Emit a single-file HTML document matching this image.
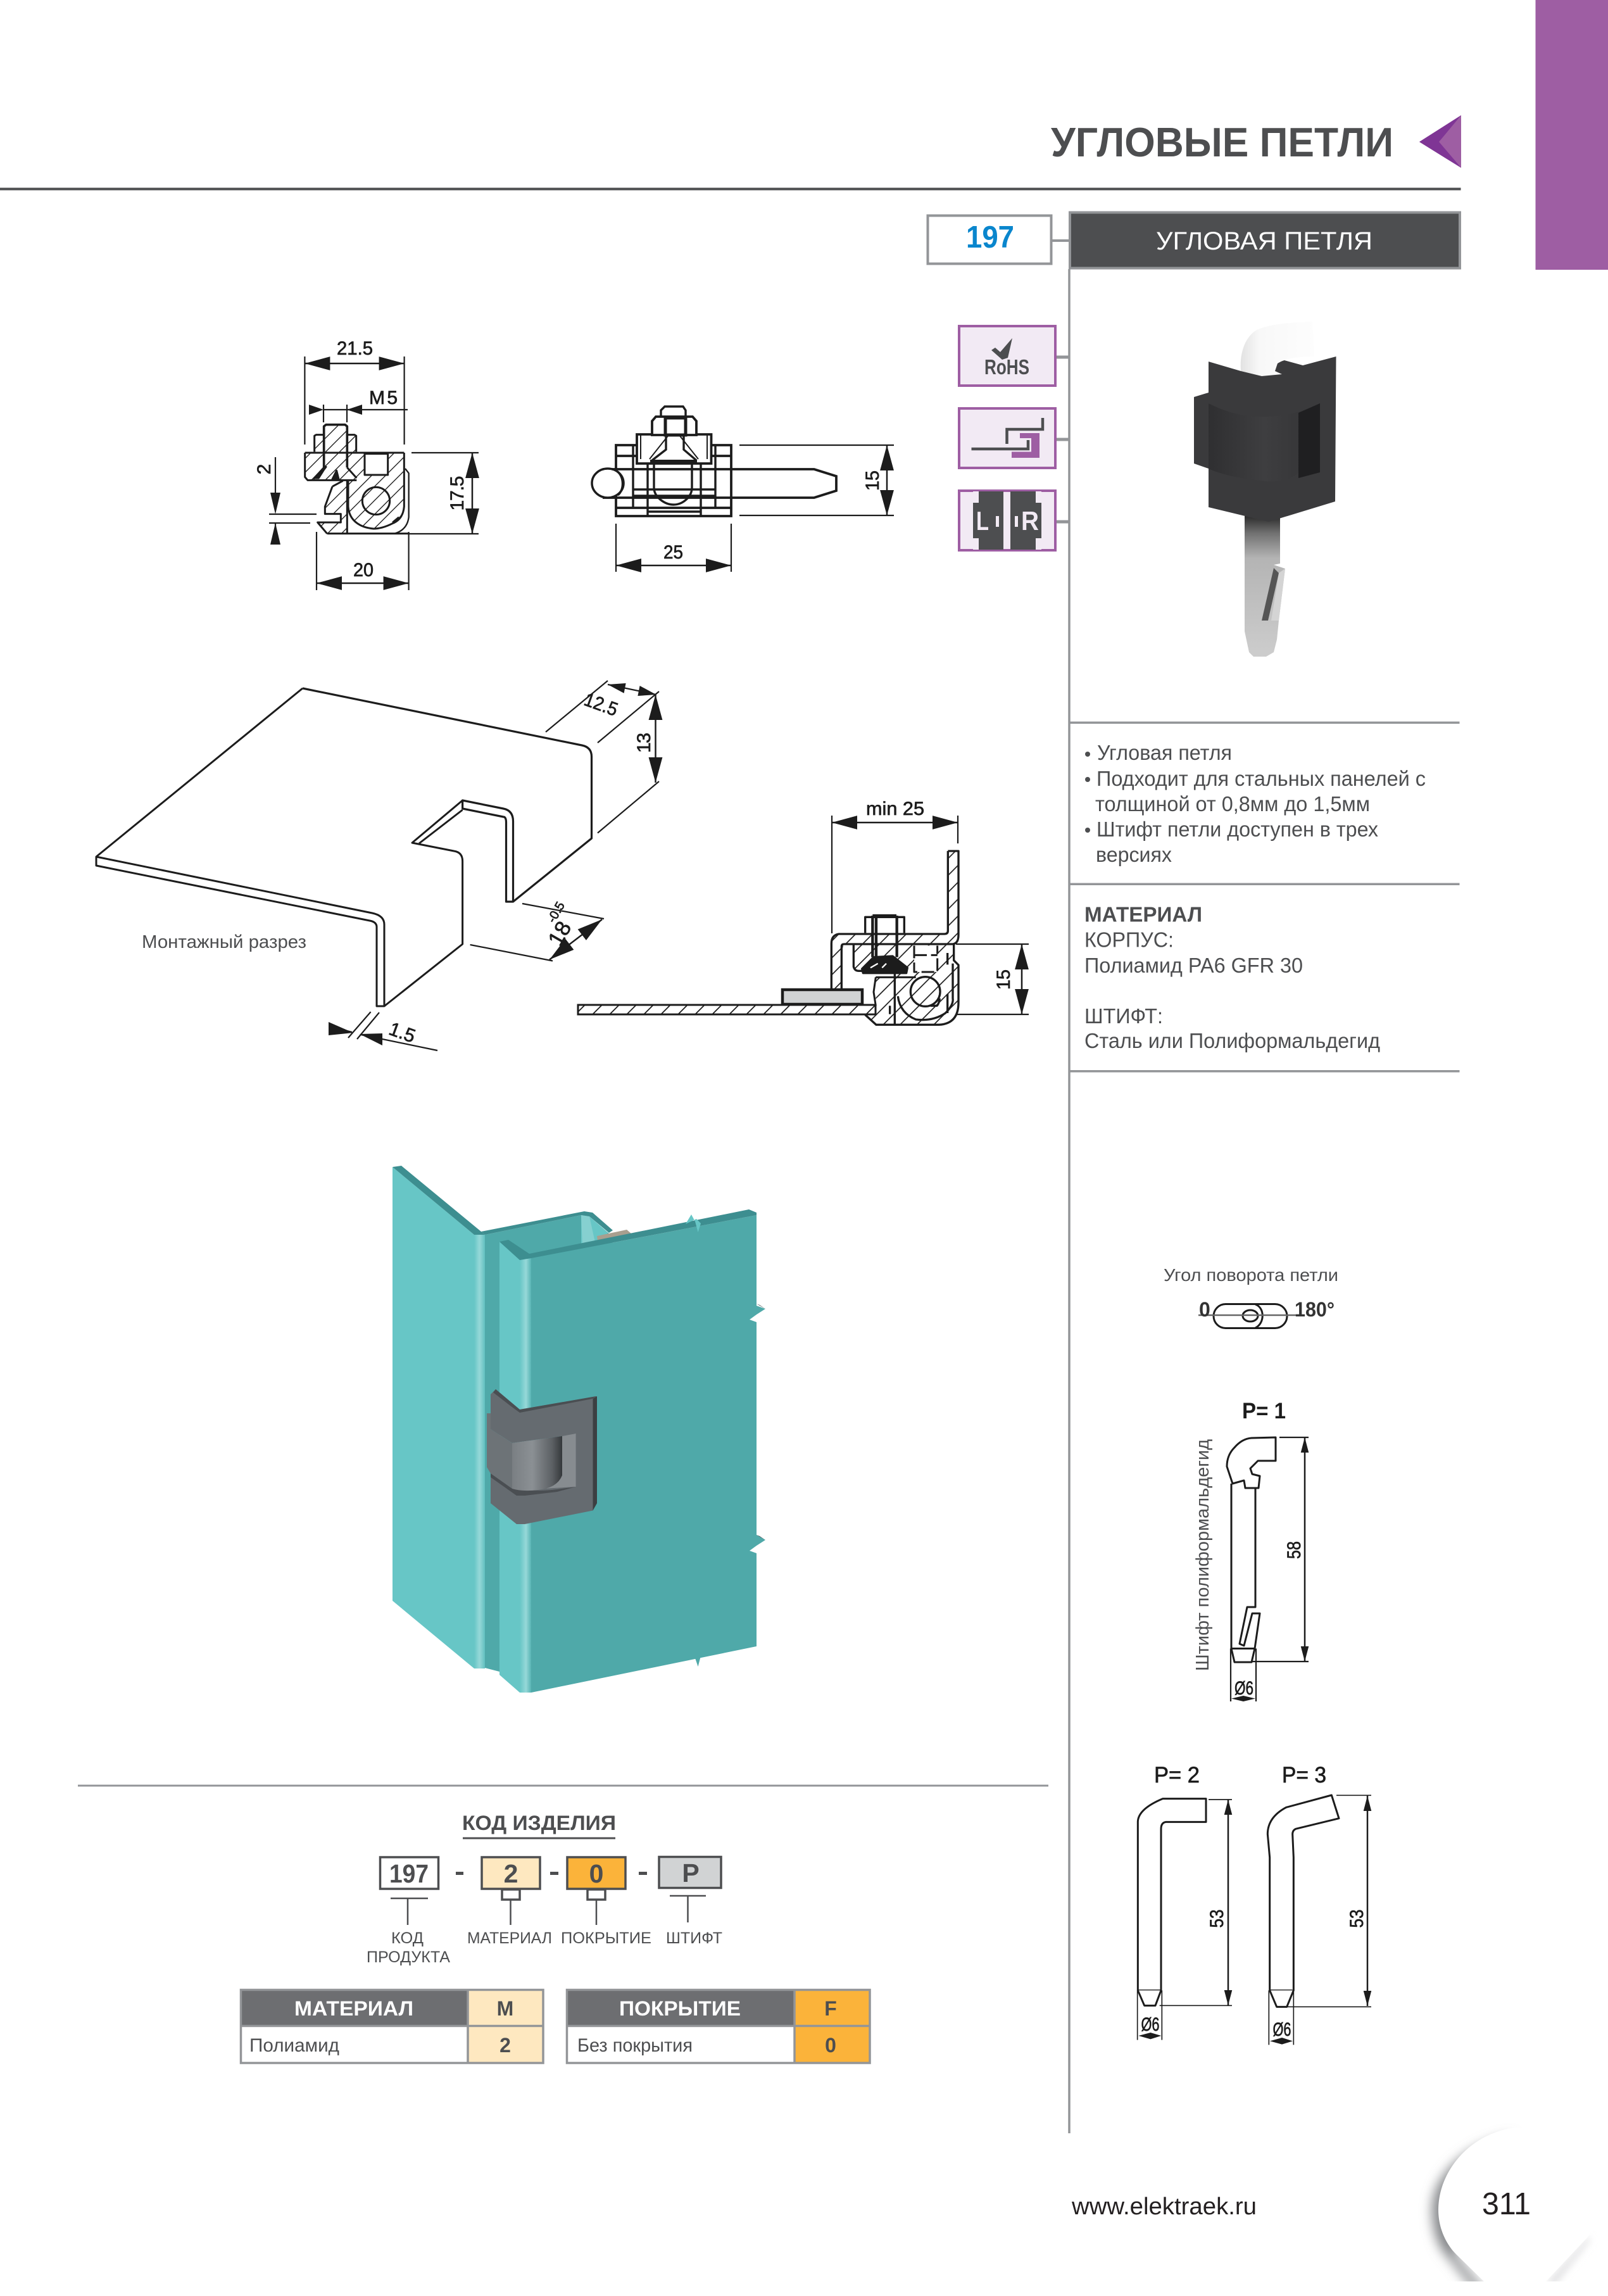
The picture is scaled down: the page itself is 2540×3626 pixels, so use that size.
<!DOCTYPE html>
<html lang="ru"><head><meta charset="utf-8"><title>197</title>
<style>
html,body{margin:0;padding:0;background:#fff}
svg{display:block}
text{font-family:"Liberation Sans","Noto Sans CJK SC",sans-serif;fill:#4d4e50}
.d{fill:#1c1c1c;stroke:#1c1c1c;stroke-width:.7px;font-size:30px}
.t{font-size:33px}
.b{font-weight:bold}
.m{text-anchor:middle}
.l{font-size:25px}
.thin{stroke:#1c1c1c;stroke-width:2.2;fill:none}
.dim{stroke:#1c1c1c;stroke-width:2.5;fill:none;marker-start:url(#a);marker-end:url(#a)}
.dims{stroke:#1c1c1c;stroke-width:2.5;fill:none;marker-start:url(#s);marker-end:url(#s)}
.g{stroke:#939598;stroke-width:3.5;fill:none}
</style></head><body>
<svg xmlns="http://www.w3.org/2000/svg" width="2540" height="3626" viewBox="0 0 2540 3626">
<defs>
<marker id="a" markerUnits="userSpaceOnUse" markerWidth="40" markerHeight="24" refX="33" refY="9" orient="auto-start-reverse" viewBox="0 0 33 18"><path d="M0 0L33 9L0 18Z" fill="#1c1c1c"/></marker>
<marker id="s" markerUnits="userSpaceOnUse" markerWidth="24" markerHeight="14" refX="23" refY="6" orient="auto-start-reverse" viewBox="0 0 23 12"><path d="M0 0L23 6L0 12Z" fill="#1c1c1c"/></marker>
<pattern id="h3" patternUnits="userSpaceOnUse" width="66" height="66"><path d="M-6 72L72 -6M-6 6L6 -6M60 72L72 60" stroke="#1c1c1c" stroke-width="4"/></pattern>
<pattern id="h11" patternUnits="userSpaceOnUse" width="80" height="80"><path d="M-8 88L88 -8M-8 8L8 -8M72 88L88 72" stroke="#1c1c1c" stroke-width="5"/></pattern>
<pattern id="hp" patternUnits="userSpaceOnUse" width="27" height="27"><path d="M-3 30L30 -3M-3 3L3 -3M24 30L30 24" stroke="#1c1c1c" stroke-width="1.8"/></pattern>
<linearGradient id="band" x1="0" x2="1" y1="0" y2="0"><stop offset="0" stop-color="#67c6c6"/><stop offset=".5" stop-color="#96d8d8"/><stop offset="1" stop-color="#62c0c0"/></linearGradient>
<linearGradient id="band2" x1="0" x2="1" y1="0" y2="0"><stop offset="0" stop-color="#67c6c6"/><stop offset=".55" stop-color="#96d8d8"/><stop offset="1" stop-color="#58b4b4"/></linearGradient>
<linearGradient id="cyl" x1="0" x2="1" y1="0" y2="0"><stop offset="0" stop-color="#7a7f83"/><stop offset=".4" stop-color="#8b9094"/><stop offset=".8" stop-color="#5c6064"/><stop offset="1" stop-color="#35383b"/></linearGradient>
<linearGradient id="pin" x1="0" x2="0" y1="0" y2="1"><stop offset="0" stop-color="#2c2c2c"/><stop offset=".12" stop-color="#707070"/><stop offset=".3" stop-color="#b4b4b4"/><stop offset="1" stop-color="#cdcdcd"/></linearGradient>
<linearGradient id="pint" x1="0" x2="1" y1="0" y2="0"><stop offset="0" stop-color="#e2e2e2"/><stop offset=".25" stop-color="#f8f8f8"/><stop offset="1" stop-color="#fdfdfd"/></linearGradient>
<linearGradient id="kn" x1="0" x2="1" y1="0" y2="0"><stop offset="0" stop-color="#2f2f31"/><stop offset=".5" stop-color="#3e3e40"/><stop offset="1" stop-color="#333335"/></linearGradient>
<filter id="bl" x="-30%" y="-30%" width="160%" height="160%"><feGaussianBlur stdDeviation="9"/></filter>
<filter id="bl2" x="-30%" y="-30%" width="160%" height="160%"><feGaussianBlur stdDeviation="6"/></filter>
</defs>
<rect width="2540" height="3626" fill="#fff"/>

<!-- header -->
<rect x="2425.5" y="0" width="114.5" height="426" fill="#9e5ea3"/>
<text x="1660" y="247" font-size="65" class="b" textLength="541" lengthAdjust="spacingAndGlyphs">УГЛОВЫЕ ПЕТЛИ</text>
<polygon points="2242,224 2308,182 2308,265" fill="#9e5ea3"/>
<polygon points="2242,224 2308,182 2273,224 2308,265" fill="#7f3595"/>
<rect x="0" y="296.5" width="2307.5" height="4" fill="#4d4e50"/>

<rect x="1465.5" y="340.5" width="195" height="76" fill="#fff" stroke="#939598" stroke-width="4"/>
<text x="1526" y="391" font-size="49" class="b" style="fill:#0a86cd" textLength="76" lengthAdjust="spacingAndGlyphs">197</text>
<line x1="1662" y1="380" x2="1689" y2="380" stroke="#939598" stroke-width="4"/>
<rect x="1690" y="335.5" width="616" height="88" fill="#4d4e50" stroke="#939598" stroke-width="4"/>
<text x="1826" y="394" font-size="40" style="fill:#fff" textLength="342" lengthAdjust="spacingAndGlyphs">УГЛОВАЯ ПЕТЛЯ</text>
<line x1="1689" y1="425" x2="1689" y2="3369" stroke="#939598" stroke-width="3.5"/>

<!-- icons -->
<g stroke="#939598" stroke-width="5"><line x1="1668" y1="564" x2="1689" y2="564"/><line x1="1668" y1="694" x2="1689" y2="694"/><line x1="1668" y1="824" x2="1689" y2="824"/></g>
<g fill="#f2eaf4" stroke="#9e5ea3" stroke-width="4"><rect x="1515" y="515" width="152" height="94"/><rect x="1515" y="645" width="152" height="94"/><rect x="1515" y="775" width="152" height="94"/></g>
<polygon points="1566,553 1572,549 1580,556 1599,534 1592,565 1583,568" fill="#4d4e50"/>
<text x="1555" y="591" font-size="33" class="b" textLength="71" lengthAdjust="spacingAndGlyphs">RoHS</text>
<path d="M1647 660V678H1590.5V701M1534.5 709H1624V695" stroke="#4d4e50" stroke-width="4.5" fill="none"/>
<polygon points="1611,684 1642,684 1642,723 1598,723 1598,713.5 1629,713.5 1629,692 1611,692" fill="#9e5ea3"/>
<rect x="1537" y="776" width="48" height="92" fill="#4d4e50"/><rect x="1596" y="776" width="49" height="92" fill="#4d4e50"/>
<g fill="#f2eaf4"><rect x="1537" y="776" width="9" height="18"/><rect x="1537" y="850" width="9" height="18"/><rect x="1636" y="776" width="9" height="18"/><rect x="1636" y="850" width="9" height="18"/><rect x="1573" y="815" width="5" height="17"/><rect x="1603" y="815" width="5" height="17"/></g>
<text x="1542" y="837" font-size="42" class="b" style="fill:#f2eaf4" textLength="20" lengthAdjust="spacingAndGlyphs">L</text>
<text x="1613" y="837" font-size="42" class="b" style="fill:#f2eaf4" textLength="28" lengthAdjust="spacingAndGlyphs">R</text>

<!-- product photo -->
<path d="M1966 815H2022V890L2012 892L2030 898L2020 980L2017 1010L2012 1030L2000 1037H1980L1973 1030L1966 997Z" fill="url(#pin)"/>
<polygon points="2012,897 2020,905 2003,980 1993,980" fill="#555"/>
<polygon points="2020,905 2030,898 2020,980 2008,980" fill="#d4d4d4"/>
<path d="M1909 571L1960 586L2025 568L2058 577L2110.5 563L2109 792L2004 824L1909 801V740L1886 732V627L1909 620Z" fill="#3a3a3c"/>
<path d="M1909 637C1935 650 1960 658 1995 658C2030 658 2060 650 2085 637V746H2051C2040 758 2020 762 2000 760C1960 756 1930 750 1909 740Z" fill="url(#kn)"/>
<polygon points="2051,652 2085,637 2085,746 2051,755" fill="#1f1f21"/>
<path d="M1960 586C1958 558 1966 535 1982 523C2000 512 2040 509 2073 508L2076 563C2052 563 2030 566 2018 574L2014 586L2025 591L1993 594Z" fill="url(#pint)"/>

<!-- section A -->
<g transform="translate(480 660) scale(.33333)" fill="none" stroke="#1c1c1c" stroke-width="9" stroke-linejoin="round">
<path fill="url(#h3)" stroke="none" d="M5 165H475V420Q470 480 420 500Q370 525 330 525C270 520 215 490 210 420V295H5Z"/>
<path fill="url(#h3)" stroke="none" d="M95 32H205V165H95ZM50 85H248V165H50Z"/>
<path fill="url(#h3)" stroke="none" d="M135 325L185 298H205V548H110L65 495H175V455H100V420Z"/>
<rect x="288" y="170" width="110" height="100" fill="#fff"/>
<path d="M95 235V40L105 32H195L205 40V235" stroke-width="11"/>
<path d="M50 160V85L58 80H95M205 80H240L248 85V160"/>
<path d="M5 165H475M5 165V280L18 295H250"/>
<path d="M475 165V420Q470 480 420 500Q370 525 330 525C270 520 215 490 210 420V300"/>
<path d="M480 240L497 262V470Q490 530 430 548" stroke-width="7"/>
<path d="M110 548H497"/>
<path d="M135 325L185 298M135 325L100 420V455H175V495H65L110 548M205 295V548"/>
<path d="M95 235L45 290M205 235L250 285"/>
<polygon points="105,232 50,285 70,285 95,245" fill="#1c1c1c"/>
<polygon points="155,250 135,290 165,290" fill="#1c1c1c"/>
<circle cx="342" cy="393" r="65" stroke-width="9"/>
<path d="M420 495L450 470" stroke-width="8"/>
</g>
<!-- A dims -->
<g class="thin">
<path d="M481.4 563V702M638.6 563V702M511 639V667M548 639V667M650 715H756M645 843H756M425 812H500M425 826H490M500 840V932M645.6 840V932"/>
<path d="M435 722V778M435 826V860"/>
</g>
<line x1="481.4" y1="574" x2="638.6" y2="574" class="dim"/>
<path d="M548 647H644" class="thin"/>
<polygon points="511,647 488,639 488,655" fill="#1c1c1c"/>
<polygon points="548,647 572,639 572,655" fill="#1c1c1c"/>
<line x1="511" y1="647" x2="548" y2="647" class="thin"/>
<line x1="746" y1="715" x2="746" y2="843" class="dim"/>
<polygon points="435,812 427,778 443,778" fill="#1c1c1c"/>
<polygon points="435,826 427,860 443,860" fill="#1c1c1c"/>
<line x1="500" y1="921" x2="645.6" y2="921" class="dim"/>
<text class="d" x="532" y="560" textLength="57" lengthAdjust="spacingAndGlyphs">21.5</text>
<text class="d" x="583" y="638" font-size="28" textLength="45" lengthAdjust="spacing">M 5</text>
<text class="d m" transform="translate(732 779) rotate(-90)" textLength="55" lengthAdjust="spacing">17.5</text>
<text class="d m" transform="translate(427 741) rotate(-90)">2</text>
<text class="d" x="558" y="910" textLength="32" lengthAdjust="spacingAndGlyphs">20</text>

<!-- section B -->
<g fill="none" stroke="#1c1c1c" stroke-width="3.4">
<path d="M973 703H1155V815H973ZM973 720H1155M973 802H1155" stroke-width="3.8"/>
<path d="M1000 703V802M1023 703V815M1107 703V815M1130 703V802M1000 773H1130M1000 783H1130M1023 808H1107"/>
<path d="M1006 686H1123.5V732H1006Z" stroke-width="3.8" fill="#fff"/>
<path d="M1012 686V725M1117 686V725M1103 725L1072 686M1026 725L1057 686" stroke-width="2"/>
<path d="M1033 733V770C1033 785 1050 797 1064 797C1078 797 1093 785 1093 770V733"/>
<path d="M952 741H1286L1321 752V775L1286 786H952" stroke-width="3.8"/>
<ellipse cx="960" cy="763" rx="25" ry="23" fill="#fff" stroke-width="3.5"/>
<path d="M976 745C986 755 986 773 976 782"/>
<path d="M1030 687V665L1036 658H1094L1100 665V687Z" fill="#fff" stroke-width="3.8"/>
<path d="M1051 660H1083V687H1051Z" stroke-width="5"/>
<path d="M1044 658V648L1050 642H1079L1083 648V658"/>
<path d="M1052 687V710L1030 727M1080 687V710L1100 727"/>
</g>
<rect x="1027" y="726" width="74" height="6" fill="#1c1c1c"/>
<g class="thin"><path d="M1168 703H1412M1168 814H1412M973 827V903M1155 827V903"/></g>
<line x1="1401" y1="703" x2="1401" y2="814" class="dim"/>
<line x1="973" y1="893" x2="1155" y2="893" class="dim"/>
<text class="d m" transform="translate(1388 759) rotate(-90)" textLength="32" lengthAdjust="spacingAndGlyphs">15</text>
<text class="d" x="1048" y="882" textLength="31" lengthAdjust="spacingAndGlyphs">25</text>

<!-- sheet metal -->
<g fill="none" stroke="#1c1c1c" stroke-width="3" stroke-linejoin="round">
<path d="M478 1087L919 1177Q934.5 1180 934.5 1195V1324L810.5 1424H799.5V1299Q799.5 1290 795 1290L730.6 1277V1264L795 1277Q810.5 1280 810.5 1297V1424" stroke-width="3.2"/>
<path d="M478 1087L152 1353V1367L584 1454Q595 1456 595 1464V1589H607L730.6 1491V1360Q730.6 1346 717 1344L651 1331L730.6 1264"/>
<path d="M152 1353L588 1442Q607 1446 607 1460V1590"/>
<path d="M662 1332L730.6 1279"/>
</g>
<g class="thin"><path d="M960 1075L862 1156M1041 1092L944 1173M1041 1234L944 1315.5M825 1427L954 1451M742.6 1492L873 1517.5M599 1599L564 1641M585.6 1598L550 1639"/></g>
<line x1="960" y1="1081" x2="1036.5" y2="1097" class="thin"/>
<polygon points="960,1081 988.6,1079 985.6,1094.8" fill="#1c1c1c"/>
<polygon points="1036.5,1097 1007.4,1099 1010.6,1083" fill="#1c1c1c"/>
<line x1="1035.5" y1="1097" x2="1035.5" y2="1236" class="dim"/>
<line x1="951" y1="1452" x2="868" y2="1515.5" class="dim"/>
<polygon points="558,1631 519,1614 519,1635" fill="#1c1c1c"/>
<polygon points="568,1633 604,1632 604,1651" fill="#1c1c1c"/>
<path d="M524 1622L556 1630M570 1634L691 1659" class="thin"/>
<text class="d m" transform="translate(946 1122) rotate(20)" font-size="29" textLength="54" lengthAdjust="spacingAndGlyphs">12.5</text>
<text class="d m" transform="translate(1027 1173) rotate(-90)" textLength="32" lengthAdjust="spacing">13</text>
<text class="d m" transform="translate(894 1480) rotate(-60)" style="font-size:34px">18</text>
<text class="d m" transform="translate(884 1444) rotate(-60)" style="font-size:20px">-0.5</text>
<text class="d m" transform="translate(632 1640) rotate(20)">1.5</text>
<text x="224" y="1497" font-size="29" textLength="260" lengthAdjust="spacingAndGlyphs">Монтажный разрез</text>

<!-- section C -->
<path d="M1314 1288V1474M1513 1288V1332" class="thin"/>
<line x1="1314" y1="1299" x2="1513" y2="1299" class="dim"/>
<text class="d" x="1368" y="1287" textLength="92" lengthAdjust="spacingAndGlyphs">min 25</text>
<rect x="913" y="1587" width="470" height="15" fill="url(#hp)" stroke="#1c1c1c" stroke-width="3"/>
<rect x="1236" y="1563" width="126" height="23" fill="#d1d3d4" stroke="#1c1c1c" stroke-width="4.5"/>
<g transform="translate(1240 1320) scale(.33333)" fill="none" stroke="#1c1c1c" stroke-width="10" stroke-linejoin="round">
<path fill="url(#h11)" stroke="none" d="M772 72H822V470Q822 510 795 513H280Q268 513 268 725H220V510Q220 470 255 465H755Q772 465 772 450Z"/>
<path fill="url(#h11)" stroke="none" d="M325 515H800V590L822 612V790Q822 890 730 895H432L380 848H430V670H520V640H350Q325 640 325 620Z"/>
<path fill="#fff" stroke="none" d="M612 520H720V645H612Z"/>
<path d="M772 72H822V470Q822 510 795 513H280Q268 513 268 525V725M772 72V450Q772 465 755 465H255Q220 470 220 510V725"/>
<path d="M800 513V590L822 612V790Q822 890 730 895H432L380 848"/>
<path d="M325 515V620Q330 640 350 640H370"/>
<path d="M415 378H528M415 378V575M530 378V575M432 378V570" stroke-width="13"/>
<path d="M380 460V385H565V460M530 385V460" stroke-width="10"/>
<polygon points="420,575 510,570 580,625 575,650 370,650 365,630" fill="#1c1c1c"/>
<path d="M405 625L440 605M460 625L480 605" stroke="#fff" stroke-width="7"/>
<path d="M612 520V645H722V520M612 565H722" stroke-width="9" stroke-dasharray="60 20"/>
<path d="M430 670H620M430 670L420 740L430 805" stroke-width="9"/>
<path d="M520 650V895M497 805V845"/>
<circle cx="665" cy="738" r="70"/>
<path d="M535 760Q545 840 620 870Q700 880 760 840Q800 800 795 770V605"/>
<path d="M770 555V610M770 750V840"/>
<path d="M690 805H720Q730 795 733 770"/>
</g>
<g class="thin"><path d="M1510 1491H1625M1510 1602H1625"/></g>
<line x1="1614" y1="1491" x2="1614" y2="1602" class="dim"/>
<text class="d m" transform="translate(1595 1547) rotate(-90)" textLength="32" lengthAdjust="spacingAndGlyphs">15</text>

<!-- teal assembly -->
<polygon points="620,1843 749,1950 749,2635 620,2528" fill="#67c6c6"/>
<polygon points="620,1843 634,1841 760,1945 766,1950 749,1950" fill="#3d8e90"/>
<rect x="749" y="1950" width="17" height="685" fill="url(#band)"/>
<polygon points="766,1950 918,1919 961,1947 1000,2040 800,2040 789,2640 766,2634" fill="#4fa9a9"/>
<polygon points="918,1919 931,1921 961,1947 944,1960 936,1965 918,1965" fill="#67c6c6"/>
<polygon points="918,1919 931,1921 940,1962 920,1966" fill="#86d0d0"/>
<polygon points="760,1945 923,1913 936,1915 968,1943 962,1947 931,1921 918,1919 766,1950" fill="#3d8e90"/>
<polygon points="943,1952 990,1942 997,1948 944,1960" fill="#a89f8f"/>
<polygon points="789,1961 821,1989 821,2673 789,2645" fill="#67c6c6"/>
<polygon points="821,1989 839,1987 839,2673 821,2673" fill="url(#band2)"/>
<polygon points="839,1987 1195,1919 1195,2600 839,2673" fill="#4fa9a9"/>
<polygon points="789,1961 803,1958 836,1980 1183,1910 1195,1915 1195,1919 839,1987 821,1990" fill="#3d8e90"/>
<polygon points="1083,1933 1092,1918 1098,1929 1102.6,1946 1107,1932 1100,1925" fill="#67c6c6"/>
<polygon points="1195,2062 1209,2067 1195,2076" fill="#4fa9a9"/>
<polygon points="1195,2059 1209,2067 1200,2061" fill="#2d3c40"/>
<polygon points="1195,2076 1184,2084 1195,2088" fill="#fff"/>
<polygon points="1195,2424 1209,2432 1195,2441" fill="#4fa9a9"/>
<polygon points="1195,2424 1209,2432 1200,2426" fill="#2d3c40"/>
<polygon points="1195,2441 1184,2449 1195,2453" fill="#fff"/>
<polygon points="1094,2607 1102.6,2632 1107,2615" fill="#4fa9a9"/>

<!-- grey hinge -->
<path d="M775 2202L783 2194L821 2226L942 2205V2374L936.5 2385.5L829 2407H816L775 2374V2327H783L809 2346H888V2268L809 2279L775 2257Z" fill="#656b70"/>
<path d="M783 2194L821 2226L942 2205L936 2209L821 2231L806 2220L779 2199Z" fill="#4a4e52"/>
<polygon points="936.5,2209 943,2205 943,2374 936.5,2385.5" fill="#3c3f42"/>
<polygon points="888,2268 909.6,2264 909.6,2348 840,2352 880,2340" fill="#878c90"/>
<path d="M775 2327L809 2346Q835 2358 880 2352L909.6 2348L880 2356L829 2362H816L775 2333Z" fill="#4a4e52"/>
<polygon points="769,2232 775,2232 775,2257 809,2279 809,2351 775,2327 769,2317" fill="#6d7377"/>
<path d="M809 2279L888 2268V2330Q880 2350 850 2353Q825 2356 809 2351Z" fill="url(#cyl)"/>

<!-- code -->
<rect x="123" y="2818.5" width="1533" height="3" fill="#939598"/>
<text x="730" y="2890" font-size="32" class="b" textLength="243" lengthAdjust="spacingAndGlyphs">КОД ИЗДЕЛИЯ</text>
<rect x="731" y="2901.5" width="241" height="3" fill="#4d4e50"/>
<g stroke="#4d4e50" stroke-width="3.5">
<rect x="600.5" y="2933" width="92" height="50" fill="#fff"/>
<rect x="761" y="2933" width="92" height="50" fill="#fee8c0"/>
<rect x="896" y="2933" width="92" height="50" fill="#fbb33a"/>
<rect x="1041" y="2932.5" width="98" height="49" fill="#d1d3d4"/>
<rect x="793" y="2984" width="28" height="16" fill="#fff"/>
<rect x="928" y="2984" width="28" height="16" fill="#fff"/>
<path d="M617 2998H676M644 2998V3040M806.5 3001V3040M942 3001V3040M1058 2994H1115M1086.5 2994V3036" fill="none" stroke-width="2.5"/>
</g>
<g fill="#4d4e50"><rect x="720" y="2956" width="12" height="5"/><rect x="869" y="2956" width="13" height="5"/><rect x="1009" y="2956" width="13" height="5"/></g>
<text x="646" y="2973" class="b m" font-size="41" textLength="62" lengthAdjust="spacingAndGlyphs">197</text><text x="807" y="2973" class="b m" font-size="41">2</text><text x="942" y="2973" class="b m" font-size="41">0</text><text x="1091" y="2972" class="b m" font-size="41">P</text>
<text class="l" x="618" y="3069" textLength="51" lengthAdjust="spacingAndGlyphs">КОД</text>
<text class="l" x="579" y="3099" textLength="132" lengthAdjust="spacingAndGlyphs">ПРОДУКТА</text>
<text class="l" x="738" y="3069" textLength="134" lengthAdjust="spacingAndGlyphs">МАТЕРИАЛ</text>
<text class="l" x="886" y="3069" textLength="143" lengthAdjust="spacingAndGlyphs">ПОКРЫТИЕ</text>
<text class="l" x="1052" y="3069" textLength="89" lengthAdjust="spacingAndGlyphs">ШТИФТ</text>

<!-- tables -->
<rect x="380" y="3142" width="359" height="57" fill="#6d6e71"/>
<rect x="739" y="3142" width="119" height="116" fill="#fee8c0"/>
<path d="M380.5 3142.5H858V3258H380.5ZM739 3142V3258M380 3199.5H858" fill="none" stroke="#939598" stroke-width="3.5"/>
<text x="465" y="3183" font-size="32" class="b" style="fill:#fff" textLength="188" lengthAdjust="spacingAndGlyphs">МАТЕРИАЛ</text>
<text x="798" y="3183" font-size="32" class="b m">M</text>
<text x="394" y="3240" font-size="30" textLength="142" lengthAdjust="spacingAndGlyphs">Полиамид</text>
<text x="798" y="3241" font-size="32" class="b m">2</text>
<rect x="895" y="3142" width="360" height="57" fill="#6d6e71"/>
<rect x="1255" y="3142" width="119" height="116" fill="#fbb33a"/>
<path d="M895.5 3142.5H1374V3258H895.5ZM1255 3142V3258M895 3199.5H1374" fill="none" stroke="#939598" stroke-width="3.5"/>
<text x="978" y="3183" font-size="32" class="b" style="fill:#fff" textLength="192" lengthAdjust="spacingAndGlyphs">ПОКРЫТИЕ</text>
<text x="1312" y="3183" font-size="32" class="b m">F</text>
<text x="912" y="3240" font-size="30" textLength="182" lengthAdjust="spacingAndGlyphs">Без покрытия</text>
<text x="1312" y="3241" font-size="32" class="b m">0</text>

<!-- right text -->
<g fill="#939598"><rect x="1689" y="1139.5" width="616.5" height="3.5"/><rect x="1689" y="1394.5" width="616.5" height="3.5"/><rect x="1689" y="1690" width="616.5" height="3.5"/></g>
<g fill="#4d4e50"><circle cx="1718" cy="1191" r="4"/><circle cx="1718" cy="1231" r="4"/><circle cx="1718" cy="1311" r="4"/></g>
<text class="t" x="1733" y="1200" textLength="213" lengthAdjust="spacingAndGlyphs">Угловая петля</text>
<text class="t" x="1732" y="1241" textLength="520" lengthAdjust="spacingAndGlyphs">Подходит для стальных панелей с</text>
<text class="t" x="1730" y="1281" textLength="434" lengthAdjust="spacingAndGlyphs">толщиной от 0,8мм до 1,5мм</text>
<text class="t" x="1732" y="1321" textLength="445" lengthAdjust="spacingAndGlyphs">Штифт петли доступен в трех</text>
<text class="t" x="1731" y="1361" textLength="120" lengthAdjust="spacingAndGlyphs">версиях</text>
<text class="t b" x="1713" y="1455.5" textLength="186" lengthAdjust="spacingAndGlyphs">МАТЕРИАЛ</text>
<text class="t" x="1713" y="1495.5" textLength="141" lengthAdjust="spacingAndGlyphs">КОРПУС:</text>
<text class="t" x="1713" y="1536" textLength="345" lengthAdjust="spacingAndGlyphs">Полиамид PA6 GFR 30</text>
<text class="t" x="1713" y="1616" textLength="124" lengthAdjust="spacingAndGlyphs">ШТИФТ:</text>
<text class="t" x="1713" y="1655" textLength="467" lengthAdjust="spacingAndGlyphs">Сталь или Полиформальдегид</text>

<!-- rotation -->
<text x="1838" y="2023" font-size="28" textLength="276" lengthAdjust="spacingAndGlyphs">Угол поворота петли</text>
<rect x="1917" y="2059.5" width="116" height="38" rx="19" fill="none" stroke="#1c1c1c" stroke-width="3"/>
<path d="M1983 2060C1998 2065 1998 2090 1983 2097" fill="none" stroke="#1c1c1c" stroke-width="3"/>
<ellipse cx="1975" cy="2078" rx="12" ry="9" fill="none" stroke="#1c1c1c" stroke-width="3"/>
<line x1="1893" y1="2077" x2="2057" y2="2077" stroke="#666" stroke-width="2.5"/>
<text x="1894" y="2079" font-size="32" class="b" style="fill:#333">0</text>
<text x="2045" y="2079" font-size="32" class="b" style="fill:#333" textLength="63" lengthAdjust="spacingAndGlyphs">180°</text>

<!-- pin P1 -->
<text x="1962" y="2240" font-size="35" class="b" style="fill:#1c1c1c" textLength="69" lengthAdjust="spacingAndGlyphs">P= 1</text>
<path d="M2015 2270V2307H1987L1975 2319L1978 2328L1990 2331L1988 2350H1967L1965 2338L1947 2343L1938 2316Q1938 2298 1950 2286Q1962 2272 1977 2271ZM1945 2343V2603.5H1982L1990 2548H1978L1965 2599L1958 2596L1970 2538H1983V2350M1945 2603.5L1950 2625H1977L1982 2603.5" fill="none" stroke="#1c1c1c" stroke-width="3" stroke-linejoin="round"/>
<path d="M2021 2270H2067M1977 2624H2067M1944 2603.5V2687M1984 2603.5V2687" class="thin"/>
<line x1="2061" y1="2270" x2="2061" y2="2624" class="dims"/>
<polygon points="1945,2682.5 1964,2678 1983,2682.5 1964,2687" fill="#1c1c1c"/>
<text class="d m" transform="translate(2054 2448) rotate(-90)" font-size="28" textLength="28" lengthAdjust="spacingAndGlyphs">58</text>
<text class="d m" x="1965" y="2676" font-size="24" textLength="30" lengthAdjust="spacingAndGlyphs">Ø6</text>
<text transform="translate(1909 2639) rotate(-90)" font-size="29" textLength="366" lengthAdjust="spacingAndGlyphs">Штифт полиформальдегид</text>

<!-- pins P2, P3 -->
<g transform="translate(1740 2760) scale(.33333)" fill="none" stroke="#1c1c1c" stroke-width="9" stroke-linejoin="round">
<path d="M495 242V352H305Q282 355 282 385V1150L255 1222H203L172 1150V350Q175 290 290 242Z"/>
<path d="M1090 225L1125 335L920 385Q905 392 905 410L910 520V1150L878 1228H830L797 1150V520L787 410Q787 330 875 283Z"/>
<path d="M172 1148H282M797 1148H905" stroke-width="4"/>
<path d="M507 246H618M275 1222H618M170 1150V1385M286 1150V1385M1113 226H1278M880 1228H1278M793 1150V1408M910 1150V1408" stroke-width="5"/>
<polygon points="175,1365 232,1350 283,1365 232,1381" fill="#1c1c1c" stroke="none"/>
<polygon points="798,1390 855,1374 906,1390 855,1406" fill="#1c1c1c" stroke="none"/>
</g>
<line x1="1940" y1="2842" x2="1940" y2="3167" class="dims"/>
<line x1="2160" y1="2836" x2="2160" y2="3168" class="dims"/>
<text x="1823" y="2815" class="d" style="font-size:35px" textLength="72" lengthAdjust="spacingAndGlyphs">P= 2</text>
<text x="2025" y="2815" class="d" style="font-size:35px" textLength="70" lengthAdjust="spacingAndGlyphs">P= 3</text>
<text class="d m" transform="translate(1932 3030) rotate(-90)" font-size="28" textLength="29" lengthAdjust="spacingAndGlyphs">53</text>
<text class="d m" transform="translate(2153 3030) rotate(-90)" font-size="28" textLength="29" lengthAdjust="spacingAndGlyphs">53</text>
<text class="d m" x="1817" y="3207" font-size="24" textLength="29" lengthAdjust="spacingAndGlyphs">Ø6</text>
<text class="d m" x="2025" y="3215" font-size="24" textLength="29" lengthAdjust="spacingAndGlyphs">Ø6</text>

<!-- footer -->
<text x="1693" y="3497" font-size="38" style="fill:#231f20" textLength="292" lengthAdjust="spacingAndGlyphs">www.elektraek.ru</text>
<path d="M2393 3372C2325 3382 2262 3430 2262 3490C2262 3525 2272 3550 2288 3566L2335 3625H2350L2300 3560L2344 3400Z" fill="#86888b" filter="url(#bl)"/>
<path d="M2442 3608L2508 3533L2512 3537L2456 3608Z" fill="#dcdcde" filter="url(#bl2)"/>
<path d="M2393 3360C2320 3370 2272 3430 2272 3490C2272 3520 2285 3545 2300 3560L2344 3603H2442L2508 3533C2540 3480 2540 3400 2470 3360Z" fill="#fff"/>
<rect x="2200" y="3603" width="340" height="23" fill="#fff"/>
<text x="2341" y="3497" font-size="49" style="fill:#231f20" textLength="77" lengthAdjust="spacingAndGlyphs">311</text>
</svg>
</body></html>
